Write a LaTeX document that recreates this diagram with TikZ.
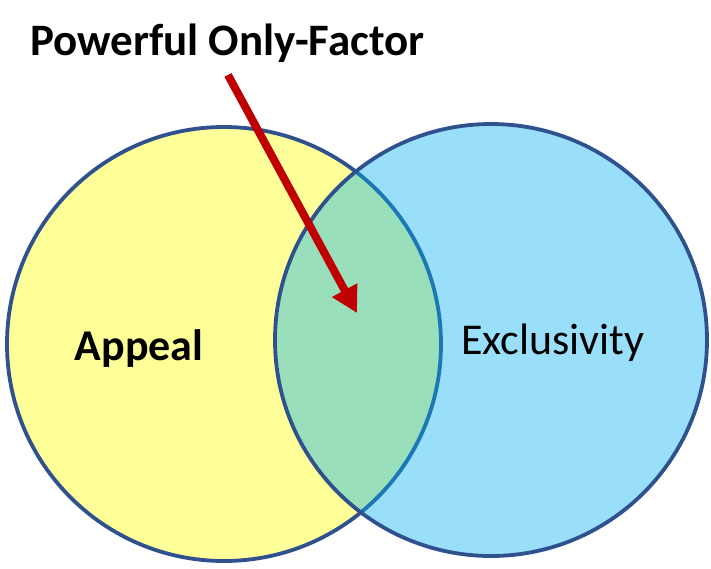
\documentclass[tikz,border=0pt]{standalone}
\usepackage{fontspec}
\setmainfont{Carlito}
\usetikzlibrary{arrows.meta}
\definecolor{vyellow}{HTML}{FFFF99}
\definecolor{vblue}{HTML}{00B0F0}
\definecolor{vborder}{HTML}{2F528F}
\definecolor{vred}{HTML}{C00000}
\tikzset{
  setcircle/.style={circle, draw=vborder, line width=3.8pt, inner sep=0pt},
  bigtext/.style={font=\fontsize{44}{52}\selectfont, inner sep=0pt, text=black},
  pointer/.style={draw=vred, line width=8pt, -{Triangle[length=26pt,width=27pt]}, vred}
}
\begin{document}
\begin{tikzpicture}[x=1pt,y=-1pt]
\fill[white] (0,0) rectangle (711,568);
\useasboundingbox (0,0) rectangle (711,568);
\node[setcircle, fill=vyellow, minimum size=434pt] (appealc) at (224,344) {};
\node[setcircle, fill=vblue, fill opacity=0.4, minimum size=432pt] (exclc) at (491,340) {};
\node[bigtext, anchor=base west, font=\fontsize{45}{52}\selectfont\bfseries] (title) at (30,55) {Powerful Only-Factor};
\node[bigtext, anchor=base, font=\fontsize{44}{52}\selectfont\bfseries] (appeal) at (139,360) {Appeal};
\node[bigtext, anchor=base] (excl) at (553,354) {Exclusivity};
\coordinate (arrstart) at (228,75);
\coordinate (arrtip) at (357,313);
\draw[pointer] (arrstart) -- (arrtip);
\end{tikzpicture}
\end{document}
